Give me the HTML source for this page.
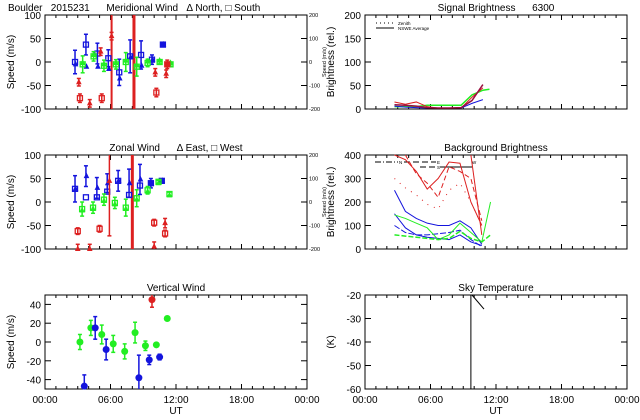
<!DOCTYPE html>
<html><head><meta charset="utf-8"><style>
body{margin:0;background:#fff}
svg{display:block;font-family:"Liberation Sans",sans-serif}
text{font-size:10px;fill:#000;white-space:pre}
</style></head><body>
<svg id="s" width="640" height="420"></svg>
<script>
// ---- data ----
const merBlueT=[2.75,3.75,4.8,5.8,6.8,7.8,8.8,9.8,10.8];
const merBlueV=[0,37,18,8,-22,12,15,5,37];
const merBlueE=[25,22,22,18,28,35,30,10,4];
const merBlueTriV=[-5,-10,-10,-15,-35,10,-8,5,37];
const merGreenT=[3.45,4.45,5.4,6.5,7.4,8.4,9.4,10.5,11.5];
const merGreenV=[-5,12,-8,-5,0,-10,-2,0,-5];
const merGreenE=[18,10,12,10,20,20,8,4,4];
const merRedTriT=[3.1,4.1,5.1,6.1,10.1,11.1];
const merRedTriV=[-43,-88,22,55,-22,-25];
const merRedSqT=[3.2,5.2,10.2,11.2];
const merRedSqV=[-77,-77,-65,-5];
const merRedLines=[6.1,8.15];

const zonBlueT=[2.75,3.75,4.75,5.7,6.7,7.7,8.7,9.7,10.7];
const zonBlueV=[28,10,10,22,45,15,35,40,45];
const zonBlueTriV=[28,55,30,40,45,40,48,40,45];
const zonBlueE=[28,22,22,20,22,30,32,10,3];
const zonGreenT=[3.4,4.4,5.4,6.4,7.4,8.4,9.4,10.4,11.4];
const zonGreenV=[-15,-12,5,-2,-12,8,25,43,17];
const zonGreenE=[15,12,12,12,18,18,8,3,4];
const zonRedSqT=[3.0,5.0,10.0,11.0];
const zonRedSqV=[-62,-57,-44,-67];
const zonRedTriT=[3.0,4.1,5.9,10.0,11.0];
const zonRedTriV=[-100,-100,45,-95,-45];
const zonRedLines=[8.0];

const vGreenT=[3.2,4.2,5.2,6.25,7.3,8.25,9.2,10.2,11.2];
const vGreenV=[0,15,8,-2,-10,10,-4,-3,25];
const vGreenE=[8,8,10,9,8,11,5,2,2];
const vBlueT=[3.6,4.6,5.6,8.6,9.55,10.5];
const vBlueV=[-47,15,-8,-38,-19,-16];
const vBlueE=[12,12,11,24,5,3];
const vRedT=[9.8];const vRedV=[45];const vRedE=[8];

const sigT=[2.7,3.7,4.7,5.7,6.7,7.7,8.8,9.8,10.8,11.4];
const sigRed=[15,10,15,5,2,2,2,25,45,null];
const sigGreen=[5,5,5,8,8,8,8,30,40,42];
const sigBlue=[6,4,3,2,2,2,2,12,20,null];
const sigMaroon=[9,8,6,3,2,2,3,18,52,null];

const bgT=[2.7,3.7,4.7,5.7,6.7,7.7,8.7,9.7,10.7,11.5];
const bgRed1=[400,380,330,255,300,370,365,200,100,null];
const bgRed2=[null,null,null,null,null,null,null,400,60,null];
const bgRed3=[null,400,320,280,220,350,330,300,120,null];
const bgRedDot=[300,260,230,190,170,250,280,200,100,null];
const bgBlue1=[250,160,130,110,100,100,120,90,20,null];
const bgBlue2=[100,70,60,60,65,70,80,40,10,null];
const bgBlue3=[150,90,60,50,45,40,60,30,15,null];
const bgGreen1=[145,130,110,90,40,60,110,70,30,200];
const bgGreen2=[60,55,50,45,40,45,75,45,30,60];

const skyT=[9.8,10.9];const skyV=[-20,-26];const skyLine=[9.7];

const xTicks=["00:00","06:00","12:00","18:00","00:00"];
// ---- drawing ----
const S=document.getElementById('s');const NS='http://www.w3.org/2000/svg';
function el(t,a,p){const e=document.createElementNS(NS,t);for(const k in a)e.setAttribute(k,a[k]);(p||S).appendChild(e);return e;}
function txt(x,y,s,a,p){const e=el('text',Object.assign({x:x,y:y},a||{}),p);e.textContent=s;return e;}
function small(x,y,s,sc,p,rot){const e=el('text',{x:0,y:0,transform:`translate(${x},${y}) ${rot?'rotate(-90)':''} scale(${sc})`,'text-anchor':rot?'middle':'start'},p);e.textContent=s;return e;}
function panel(name,x0,y0,x1,y1,ymin,ymax,yticks,ylab,title,showX,rightTicks){
 const g=el('g',{});
 
 
 const P={g:g,x:h=>x0+h/24*(x1-x0),y:v=>y1-(v-ymin)/(ymax-ymin)*(y1-y0)};
 el('rect',{x:x0,y:y0,width:x1-x0,height:y1-y0,fill:'none',stroke:'#000','stroke-width':1},g);
 for(let h=1;h<24;h++){const X=P.x(h),L=h%6==0?5:3;el('line',{x1:X,x2:X,y1:y1,y2:y1-L,stroke:'#000'},g);el('line',{x1:X,x2:X,y1:y0,y2:y0+L,stroke:'#000'},g);}
 yticks.forEach(v=>{const Y=P.y(v);el('line',{x1:x0,x2:x0+6,y1:Y,y2:Y,stroke:'#000'},g);el('line',{x1:x1,x2:x1-6,y1:Y,y2:Y,stroke:'#000'},g);txt(x0-4,Y+4,String(v),{'text-anchor':'end'},g);});
 const yl=txt(0,0,ylab,{'text-anchor':'middle',transform:`translate(${x0-31},${(y0+y1)/2}) rotate(-90)`},g);
 
 const tt=txt((x0+x1)/2,y0-4,title,{'text-anchor':'middle'},g);
 
 if(showX){xTicks.forEach((s,i)=>txt(P.x(i*6),y1+14,s,{'text-anchor':'middle','font-size':'9px'},g));txt((x0+x1)/2,y1+25,'UT',{'text-anchor':'middle','font-size':'9px'},g);}
 if(rightTicks){rightTicks.forEach((s,i)=>small(x1+2,P.y(ymax-i*(ymax-ymin)/4)+2,s,0.55,g,false));
  small(x1+19,(y0+y1)/2,'Speed (m/s)',0.55,g,true);}
 return P;
}
function clip(P,v,lo,hi){return Math.max(lo,Math.min(hi,v));}
function errbar(P,h,v,e,c,lo,hi){const X=P.x(h);const a=P.y(clip(P,v+e,lo,hi)),b=P.y(clip(P,v-e,lo,hi));el('line',{x1:X,x2:X,y1:a,y2:b,stroke:c,'stroke-width':1.5},P.g);[v+e,v-e].forEach(w=>{if(w<=hi&&w>=lo)el('line',{x1:X-2,x2:X+2,y1:P.y(w),y2:P.y(w),stroke:c,'stroke-width':1.5},P.g);});}
function sq(P,h,v,c,fill,nm){const e=el('rect',{x:P.x(h)-2.5,y:P.y(v)-2.5,width:5,height:5,fill:fill?c:'none',stroke:c,'stroke-width':1.3},P.g);}
function tri(P,h,v,c,nm){const X=P.x(h),Y=P.y(v);const e=el('polygon',{points:`${X},${Y-2.5} ${X-2},${Y+1.5} ${X+2},${Y+1.5}`,fill:c,stroke:c},P.g);}
function dot(P,h,v,c,nm){const e=el('circle',{cx:P.x(h),cy:P.y(v),r:3.5,fill:c},P.g);}
function vline(P,h,c,w,y0,y1,nm){const e=el('line',{x1:P.x(h),x2:P.x(h),y1:y0,y2:y1,stroke:c,'stroke-width':w},P.g);}
function series(P,T,V,c,dash,nm,w){let pts=[];T.forEach((h,i)=>{if(V[i]!=null)pts.push(P.x(h)+','+P.y(V[i]));});const e=el('polyline',{points:pts.join(' '),fill:'none',stroke:c,'stroke-width':w||1,'stroke-dasharray':dash||'none'},P.g);}
const R='#dd2020',G='#22ee22',B='#1414dd';
const rt=['200','100','0','-100','-200'];
// Meridional
let P=panel('meridional-wind-panel',45,15,307,109,-100,100,[-100,-50,0,50,100],'Speed (m/s)','',false,rt);
txt(8,11,'Boulder   2015231      Meridional Wind   \u0394 North, \u25A1 South',{});
merRedLines.forEach((h,i)=>vline(P,h,R,i?3:2,15,109,'meridional-red-line'));
merBlueT.forEach((h,i)=>{errbar(P,h,merBlueV[i],merBlueE[i],B,-100,100);sq(P,h,merBlueV[i],B,i==8,'meridional-blue-south');tri(P,h+0.05,merBlueTriV[i],B,'meridional-blue-north');});
merGreenT.forEach((h,i)=>{errbar(P,h,merGreenV[i],merGreenE[i],G,-100,100);sq(P,h,merGreenV[i],G,false,'meridional-green-south');tri(P,h,merGreenV[i]+3,G,'meridional-green-north');});
merRedTriT.forEach((h,i)=>{errbar(P,h,merRedTriV[i],8,R,-100,100);tri(P,h,merRedTriV[i],R,'meridional-red-north');});
merRedSqT.forEach((h,i)=>{errbar(P,h,merRedSqV[i],9,R,-100,100);sq(P,h,merRedSqV[i],R,i==3,'meridional-red-south');});
// Zonal
P=panel('zonal-wind-panel',45,155,307,249,-100,100,[-100,-50,0,50,100],'Speed (m/s)','Zonal Wind      \u0394 East, \u25A1 West',false,rt);
zonRedLines.forEach(h=>vline(P,h,R,3,155,249,'zonal-red-line'));
zonBlueT.forEach((h,i)=>{errbar(P,h,zonBlueTriV[i],zonBlueE[i],B,-100,100);sq(P,h,zonBlueV[i],B,i>=7,'zonal-blue-west');tri(P,h+0.05,zonBlueTriV[i],B,'zonal-blue-east');});
zonGreenT.forEach((h,i)=>{errbar(P,h,zonGreenV[i],zonGreenE[i],G,-100,100);sq(P,h,zonGreenV[i],G,false,'zonal-green-west');tri(P,h,zonGreenV[i]-3,G,'zonal-green-east');});
zonRedSqT.forEach((h,i)=>{errbar(P,h,zonRedSqV[i],7,R,-100,100);sq(P,h,zonRedSqV[i],R,false,'zonal-red-west');});
zonRedTriT.forEach((h,i)=>{errbar(P,h,zonRedTriV[i],i==2?117:10,R,-100,100);tri(P,h,zonRedTriV[i],R,'zonal-red-east');});
// Vertical
P=panel('vertical-wind-panel',45,295,307,389,-50,50,[-40,-20,0,20,40],'Speed (m/s)','Vertical Wind',true,null);
vGreenT.forEach((h,i)=>{errbar(P,h,vGreenV[i],vGreenE[i],G,-50,50);dot(P,h,vGreenV[i],G,'vertical-green-point');});
vBlueT.forEach((h,i)=>{errbar(P,h,vBlueV[i],vBlueE[i],B,-50,50);dot(P,h,vBlueV[i],B,'vertical-blue-point');});
vRedT.forEach((h,i)=>{errbar(P,h,vRedV[i],vRedE[i],R,-50,50);dot(P,h,vRedV[i],R,'vertical-red-point');});
// Signal
P=panel('signal-brightness-panel',365,15,627,109,0,200,[0,50,100,150,200],'Brightness (rel.)','Signal Brightness      6300',false,null);
el('line',{x1:376,x2:394,y1:23,y2:23,stroke:'#000','stroke-dasharray':'1,3'},P.g);small(398,25,'Zenith',0.45,P.g,false);
el('line',{x1:376,x2:394,y1:28,y2:28,stroke:'#000'},P.g);small(398,30,'NSWE Average',0.45,P.g,false);
series(P,sigT,sigGreen,G,null,'signal-green-line',1.5);series(P,sigT,sigRed,R,null,'signal-red-line');series(P,sigT,sigBlue,B,null,'signal-blue-line');series(P,sigT,sigMaroon,'#9a1040',null,'signal-maroon-line',1.5);
// Background
P=panel('background-brightness-panel',365,155,627,249,0,400,[0,100,200,300,400],'Brightness (rel.)','Background Brightness',false,null);
el('line',{x1:375,x2:398,y1:162,y2:162,stroke:'#000','stroke-dasharray':'6,2,1,2'},P.g);small(399,164,'N',0.45,P.g,false);
el('line',{x1:404,x2:436,y1:162,y2:162,stroke:'#000','stroke-dasharray':'6,3'},P.g);small(437,164,'E',0.45,P.g,false);
el('line',{x1:420,x2:436,y1:167,y2:167,stroke:'#000','stroke-dasharray':'6,3'},P.g);small(437,169,'S',0.45,P.g,false);
el('line',{x1:440,x2:472,y1:167,y2:167,stroke:'#000'},P.g);small(472,164,'W',0.45,P.g,false);
series(P,bgT,bgRed1,R,null,'background-red-line');series(P,bgT,bgRed2,R,null,'background-red-line-2');series(P,bgT,bgRed3,R,'5,3','background-red-dashed');series(P,bgT,bgRedDot,R,'1,6','background-red-dotted');
series(P,bgT,bgBlue1,B,null,'background-blue-line');series(P,bgT,bgBlue2,B,'6,2','background-blue-line-2');series(P,bgT,bgBlue3,B,null,'background-blue-line-3');
series(P,bgT,bgGreen1,G,null,'background-green-line');series(P,bgT,bgGreen2,G,'5,2','background-green-line-2',1.5);
// Sky
P=panel('sky-temperature-panel',365,295,627,389,-60,-20,[-60,-50,-40,-30,-20],'(K)','Sky Temperature',true,null);
skyLine.forEach(h=>vline(P,h,'#000',1,295,389,'sky-vertical-line'));
series(P,skyT,skyV,'#000',null,'sky-temperature-line');
</script>
</body></html>
